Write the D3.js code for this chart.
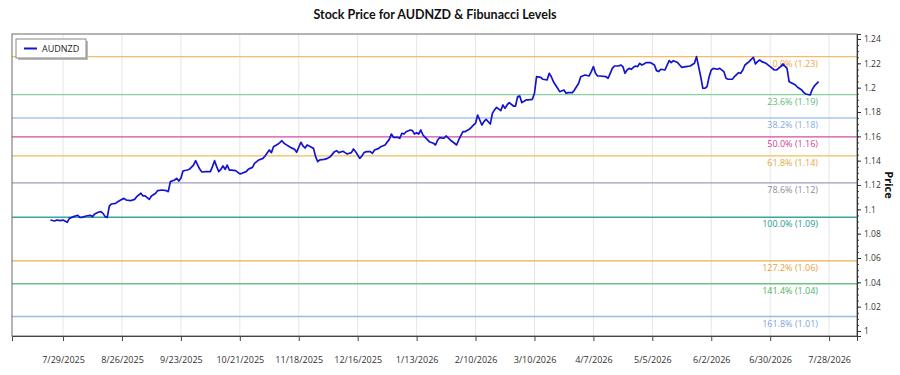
<!DOCTYPE html>
<html><head><meta charset="utf-8">
<script src="https://cdn.jsdelivr.net/npm/d3@7"></script>
<style>body{margin:0;background:#fff;} svg{display:block;font-family:"Open Sans",sans-serif;}</style>
</head><body><svg id="chart" width="900" height="375"></svg>
<script>
const seriesName = "AUDNZD";
const chartTitle = "Stock Price for AUDNZD & Fibunacci Levels";
const dates = [
"2025-07-23","2025-07-25","2025-07-26","2025-07-28","2025-07-29","2025-07-31","2025-08-01","2025-08-03","2025-08-05","2025-08-06",
"2025-08-07","2025-08-09","2025-08-11","2025-08-12","2025-08-13","2025-08-15","2025-08-16","2025-08-17","2025-08-18","2025-08-19",
"2025-08-20","2025-08-21","2025-08-23","2025-08-24","2025-08-26","2025-08-27","2025-08-28","2025-08-30","2025-09-01","2025-09-02",
"2025-09-04","2025-09-05","2025-09-06","2025-09-08","2025-09-09","2025-09-11","2025-09-12","2025-09-14","2025-09-16","2025-09-17",
"2025-09-18","2025-09-20","2025-09-21","2025-09-22","2025-09-23","2025-09-24","2025-09-26","2025-09-27","2025-09-29","2025-09-30",
"2025-10-01","2025-10-02","2025-10-03","2025-10-05","2025-10-07","2025-10-08","2025-10-09","2025-10-10","2025-10-11","2025-10-12",
"2025-10-13","2025-10-14","2025-10-15","2025-10-16","2025-10-17","2025-10-19","2025-10-21","2025-10-22","2025-10-24","2025-10-25",
"2025-10-27","2025-10-28","2025-10-30","2025-11-01","2025-11-02","2025-11-04","2025-11-05","2025-11-06","2025-11-08","2025-11-09",
"2025-11-10","2025-11-11","2025-11-12","2025-11-14","2025-11-15","2025-11-16","2025-11-17","2025-11-18","2025-11-19","2025-11-20",
"2025-11-21","2025-11-22","2025-11-24","2025-11-25","2025-11-26","2025-11-27","2025-11-28","2025-11-30","2025-12-01","2025-12-03",
"2025-12-05","2025-12-06","2025-12-07","2025-12-09","2025-12-10","2025-12-11","2025-12-13","2025-12-14","2025-12-15","2025-12-16",
"2025-12-17","2025-12-18","2025-12-19","2025-12-20","2025-12-22","2025-12-23","2025-12-24","2025-12-26","2025-12-27","2025-12-29",
"2025-12-31","2026-01-01","2026-01-02","2026-01-04","2026-01-05","2026-01-06","2026-01-07","2026-01-08","2026-01-10","2026-01-11",
"2026-01-12","2026-01-13","2026-01-14","2026-01-15","2026-01-16","2026-01-18","2026-01-19","2026-01-21","2026-01-22","2026-01-23",
"2026-01-24","2026-01-26","2026-01-27","2026-01-29","2026-01-31","2026-02-01","2026-02-02","2026-02-04","2026-02-05","2026-02-07",
"2026-02-08","2026-02-09","2026-02-10","2026-02-11","2026-02-12","2026-02-13","2026-02-14","2026-02-15","2026-02-17","2026-02-18",
"2026-02-19","2026-02-20","2026-02-22","2026-02-23","2026-02-24","2026-02-25","2026-02-26","2026-02-28","2026-03-01","2026-03-02",
"2026-03-03","2026-03-04","2026-03-06","2026-03-07","2026-03-09","2026-03-10","2026-03-11","2026-03-13","2026-03-14","2026-03-16",
"2026-03-17","2026-03-18","2026-03-19","2026-03-20","2026-03-21","2026-03-22","2026-03-24","2026-03-25","2026-03-26","2026-03-28",
"2026-03-29","2026-03-31","2026-04-01","2026-04-03","2026-04-05","2026-04-06","2026-04-07","2026-04-08","2026-04-09","2026-04-10",
"2026-04-13","2026-04-14","2026-04-15","2026-04-16","2026-04-17","2026-04-19","2026-04-20","2026-04-21","2026-04-22","2026-04-23",
"2026-04-24","2026-04-25","2026-04-26","2026-04-27","2026-04-28","2026-04-29","2026-04-30","2026-05-01","2026-05-02","2026-05-04",
"2026-05-06","2026-05-07","2026-05-08","2026-05-09","2026-05-11","2026-05-13","2026-05-14","2026-05-15","2026-05-17","2026-05-18",
"2026-05-19","2026-05-21","2026-05-23","2026-05-25","2026-05-26","2026-05-27","2026-05-28","2026-05-29","2026-05-30","2026-05-31",
"2026-06-01","2026-06-02","2026-06-03","2026-06-05","2026-06-06","2026-06-08","2026-06-09","2026-06-10","2026-06-12","2026-06-13",
"2026-06-15","2026-06-16","2026-06-17","2026-06-18","2026-06-20","2026-06-21","2026-06-22","2026-06-23","2026-06-24","2026-06-25",
"2026-06-26","2026-06-28","2026-06-30","2026-07-02","2026-07-03","2026-07-05","2026-07-06","2026-07-08","2026-07-09","2026-07-10",
"2026-07-12","2026-07-13","2026-07-15","2026-07-16","2026-07-17","2026-07-19","2026-07-20","2026-07-21","2026-07-23"
];
const prices = [
1.0912,1.0904,1.0912,1.0907,1.0912,1.0893,1.0926,1.0940,1.0951,1.0934,
1.0934,1.0945,1.0951,1.0940,1.0962,1.0978,1.0981,1.0967,1.0940,1.0934,
1.1027,1.1044,1.1049,1.1063,1.1082,1.1090,1.1077,1.1071,1.1082,1.1104,
1.1132,1.1110,1.1110,1.1082,1.1110,1.1132,1.1154,1.1159,1.1154,1.1145,
1.1228,1.1241,1.1255,1.1233,1.1255,1.1315,1.1323,1.1329,1.1364,1.1400,
1.1364,1.1329,1.1307,1.1310,1.1310,1.1351,1.1400,1.1351,1.1310,1.1329,
1.1356,1.1329,1.1364,1.1323,1.1323,1.1318,1.1291,1.1296,1.1310,1.1329,
1.1345,1.1378,1.1406,1.1419,1.1438,1.1488,1.1466,1.1515,1.1534,1.1548,
1.1564,1.1543,1.1532,1.1510,1.1501,1.1493,1.1469,1.1510,1.1551,1.1521,
1.1504,1.1529,1.1510,1.1501,1.1433,1.1392,1.1406,1.1411,1.1414,1.1433,
1.1474,1.1482,1.1466,1.1477,1.1466,1.1455,1.1466,1.1496,1.1474,1.1447,
1.1419,1.1438,1.1466,1.1474,1.1474,1.1460,1.1488,1.1501,1.1515,1.1529,
1.1575,1.1619,1.1592,1.1592,1.1584,1.1625,1.1619,1.1638,1.1652,1.1647,
1.1619,1.1630,1.1619,1.1652,1.1611,1.1575,1.1556,1.1543,1.1529,1.1570,
1.1590,1.1584,1.1603,1.1570,1.1543,1.1529,1.1570,1.1638,1.1638,1.1658,
1.1674,1.1693,1.1707,1.1775,1.1734,1.1693,1.1721,1.1740,1.1701,1.1789,
1.1817,1.1838,1.1811,1.1858,1.1830,1.1858,1.1877,1.1849,1.1849,1.1926,
1.1932,1.1877,1.1899,1.1899,1.1904,1.1954,1.2090,1.2085,1.2069,1.2063,
1.2118,1.2090,1.2049,1.2022,1.1995,1.1967,1.1981,1.1954,1.1959,1.1959,
1.1981,1.2036,1.2090,1.2104,1.2096,1.2132,1.2173,1.2118,1.2096,1.2096,
1.2090,1.2077,1.2118,1.2159,1.2178,1.2178,1.2186,1.2173,1.2118,1.2145,
1.2159,1.2151,1.2167,1.2178,1.2173,1.2200,1.2186,1.2195,1.2206,1.2206,
1.2186,1.2140,1.2132,1.2151,1.2145,1.2222,1.2206,1.2222,1.2206,1.2186,
1.2167,1.2173,1.2178,1.2200,1.2255,1.2173,1.2090,1.1995,1.1995,1.2008,
1.2090,1.2145,1.2159,1.2151,1.2159,1.2132,1.2077,1.2069,1.2069,1.2090,
1.2123,1.2118,1.2145,1.2186,1.2214,1.2233,1.2249,1.2195,1.2214,1.2227,
1.2214,1.2200,1.2173,1.2145,1.2145,1.2173,1.2195,1.2159,1.2049,1.2041,
1.2022,1.2003,1.1981,1.1959,1.1948,1.1940,1.1986,1.2014,1.2049
];
const xTickLabels = ["7/29/2025","8/26/2025","9/23/2025","10/21/2025","11/18/2025","12/16/2025","1/13/2026",
  "2/10/2026","3/10/2026","4/7/2026","5/5/2026","6/2/2026","6/30/2026","7/28/2026"];
const yTickValues = [1,1.02,1.04,1.06,1.08,1.1,1.12,1.14,1.16,1.18,1.2,1.22,1.24];
const fibHigh = 1.2255;
const fibLow = 1.0935;
const fibRatios = [0, 0.236, 0.382, 0.5, 0.618, 0.786, 1, 1.272, 1.414, 1.618];
const fibLineColors  = ["#f5bc6a","#86d19b","#a9c5f0","#cf4fa6","#ecbf5e","#9d9dbd","#3aa69e","#f0b04e","#6cc283","#9bbaec"];
const fibLabelColors = ["#f0a53c","#5dba7c","#86aadf","#c8469a","#e3a93a","#8c8c9c","#2a988f","#e9a03c","#4fb06b","#7ea3df"];

const M = {left: 12, right: 857, top: 34, bottom: 336};
const svg = d3.select("#chart");
const parse = d3.utcParse("%Y-%m-%d");
const parseTick = d3.utcParse("%m/%d/%Y");
const data = dates.map((d, i) => ({date: parse(d), price: prices[i]}));

// domain padded 5% each side
const ext = d3.extent(data, d => d.date);
const span = ext[1] - ext[0];
const x = d3.scaleUtc().domain([new Date(+ext[0] - span * 0.05), new Date(+ext[1] + span * 0.05)]).range([M.left, M.right]);
const y = d3.scaleLinear().domain([0.9959, 1.2441]).range([M.bottom, M.top]);

// vertical gridlines
const xTicks = xTickLabels.map(parseTick);
svg.append("g").selectAll("line").data(xTicks).join("line")
  .attr("x1", d => x(d)).attr("x2", d => x(d)).attr("y1", M.top).attr("y2", M.bottom)
  .attr("stroke", "#e6e6e6").attr("stroke-width", 1);

// fib lines
const fibs = fibRatios.map((r, i) => ({r, v: fibHigh - r * (fibHigh - fibLow), lc: fibLineColors[i], tc: fibLabelColors[i]}));
svg.append("g").selectAll("line").data(fibs).join("line")
  .attr("x1", M.left).attr("x2", M.right)
  .attr("y1", d => y(d.v)).attr("y2", d => y(d.v))
  .attr("stroke", d => d.lc).attr("stroke-width", 1.3);
svg.append("g").selectAll("text").data(fibs).join("text")
  .attr("x", 818).attr("y", d => y(d.v) + 10)
  .attr("text-anchor", "end").attr("font-size", 9).attr("fill", d => d.tc)
  .text(d => (d.r * 100).toFixed(1) + "% (" + d.v.toFixed(2) + ")");

// price line
const line = d3.line().x(d => x(d.date)).y(d => y(d.price));
svg.append("path").datum(data).attr("d", line)
  .attr("fill", "none").attr("stroke", "#1414cc").attr("stroke-width", 1.7).attr("stroke-linejoin", "round");

// frame
svg.append("rect").attr("x", M.left).attr("y", M.top).attr("width", M.right - M.left).attr("height", M.bottom - M.top)
  .attr("fill", "none").attr("stroke", "#6a6a6a").attr("stroke-width", 1);

// x axis
const xAxis = d3.axisBottom(x).tickValues(xTicks).tickFormat(d3.utcFormat("%-m/%-d/%Y")).tickSize(5).tickPadding(16);
const gx = svg.append("g").attr("transform", `translate(0,${M.bottom})`).call(xAxis);
gx.select(".domain").attr("stroke", "#444");
gx.selectAll(".tick line").attr("stroke", "#444");
gx.selectAll("text").attr("font-size", 9).attr("fill", "#333").attr("font-family", "'Open Sans',sans-serif");

// y axis (right)
const minorTicks = d3.range(1, 1.2401, 0.005);
const gyMinor = svg.append("g").attr("transform", `translate(${M.right},0)`)
  .call(d3.axisRight(y).tickValues(minorTicks).tickSize(2).tickFormat(""));
gyMinor.select(".domain").remove();
gyMinor.selectAll(".tick line").attr("stroke", "#444");
const gy = svg.append("g").attr("transform", `translate(${M.right},0)`)
  .call(d3.axisRight(y).tickValues(yTickValues).tickSize(4).tickPadding(3).tickFormat(d => String(+d.toFixed(2))));
gy.select(".domain").attr("stroke", "#333");
gy.selectAll(".tick line").attr("stroke", "#333");
gy.selectAll("text").attr("font-size", 8.5).attr("fill", "#333").attr("font-family", "'Open Sans',sans-serif");

// y title
svg.append("text").attr("transform", `translate(885,185) rotate(90)`)
  .attr("text-anchor", "middle").attr("font-size", 11).attr("font-weight", "bold").attr("fill", "#111").text("Price");

// title
svg.append("text").attr("x", 435).attr("y", 19).attr("text-anchor", "middle")
  .attr("font-size", 12.5).attr("font-weight", "bold").attr("fill", "#111").style("font-family", "Lato, sans-serif").text(chartTitle);

// legend
const lg = svg.append("g");
lg.append("rect").attr("x", 18).attr("y", 41).attr("width", 70).attr("height", 19).attr("fill", "#bbb");
lg.append("rect").attr("x", 16).attr("y", 39).attr("width", 70).attr("height", 19).attr("fill", "#fff").attr("stroke", "#888");
lg.append("line").attr("x1", 24).attr("x2", 37).attr("y1", 48.5).attr("y2", 48.5).attr("stroke", "#1414cc").attr("stroke-width", 2);
lg.append("text").attr("x", 42).attr("y", 52).attr("font-size", 9).attr("fill", "#222").text(seriesName);
</script></body></html>
